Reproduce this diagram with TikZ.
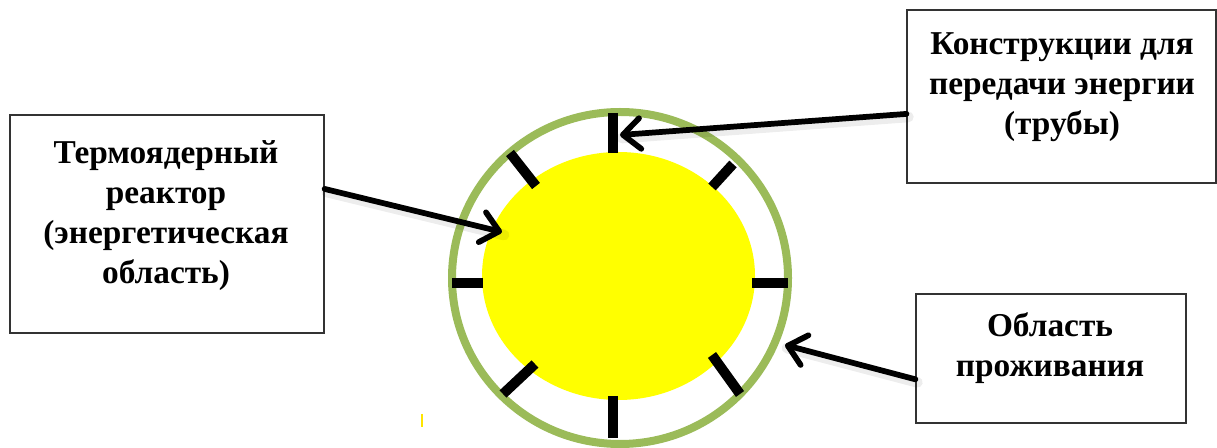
\documentclass[tikz,border=0pt]{standalone}
\usepackage{fontspec}
\setmainfont{Liberation Serif}
\usetikzlibrary{arrows.meta,calc}
\definecolor{ringgreen}{HTML}{9BBB59}
\definecolor{coreyellow}{HTML}{FFFF00}
\tikzset{
  box/.style={draw=black!80, line width=0.9pt, fill=white, inner sep=0pt},
  lbl/.style={font=\bfseries\fontsize{25}{30}\selectfont, align=center, inner sep=0pt},
  tick/.style={line width=7.5pt, black},
  arr/.style={line width=4.3pt, line cap=round, -{Straight Barb[length=13pt,width=23pt,line cap=round,line join=round]}},
  arrshadow/.style={line width=8pt, black, opacity=0.07, line cap=round},
}
\begin{document}
\begin{tikzpicture}[x=0.75pt,y=-0.75pt]
\useasboundingbox (0,0) rectangle (1217,448);
% living ring and reactor core
\draw[ringgreen, line width=6pt] (620,278) ellipse [x radius=168, y radius=166];
\fill[coreyellow] (618.5,276) ellipse [x radius=136.5, y radius=124];
\node[inner sep=0pt, minimum width=204.75pt, minimum height=186pt] (core) at (618.5,276) {};
% energy transfer structures (pipes)
\draw[tick] (613,113) -- (613,153);
\draw[tick] (613,396) -- (613,438);
\draw[tick] (452,283) -- (483,283);
\draw[tick] (752,283) -- (788,283);
\draw[tick] (510,153) -- (536,186);
\draw[tick] (733,164) -- (712,187);
\draw[tick] (535,364) -- (503,394);
\draw[tick] (712,355) -- (740,394);
% small stray mark
\draw[coreyellow!80!orange, line width=1.5pt] (422,414) -- (422,427);
% boxes
\node[box, minimum width=235.5pt, minimum height=163.5pt] (reactor) at (167,224) {};
\node[lbl] (reactortxt) at (166,216) {Термоядерный\\реактор\\(энергетическая\\область)};
\node[box, minimum width=231.75pt, minimum height=129.75pt] (pipes) at (1061.5,96.5) {};
\node[lbl] (pipestxt) at (1062,87) {Конструкции для\\передачи энергии\\(трубы)};
\node[box, minimum width=202.5pt, minimum height=96.75pt] (living) at (1051,358.5) {};
\node[lbl] (livingtxt) at (1050,348) {Область\\проживания};
% arrow end points
\coordinate (tipA) at (502,232);
\coordinate (tipB) at (620,135);
\coordinate (tipC) at (785,345);
\coordinate (startA) at ($(reactor.north east)!0.34!(reactor.south east)$);
\coordinate (startB) at ($(pipes.north west)!0.6!(pipes.south west)$);
\coordinate (startC) at ($(living.north west)!0.66!(living.south west)$);
% shadows
\draw[arrshadow] ([shift={(2,3)}]startA) -- ([shift={(2,3)}]tipA);
\draw[arrshadow] ([shift={(2,3)}]startB) -- ([shift={(2,3)}]tipB);
\draw[arrshadow] ([shift={(2,3)}]startC) -- ([shift={(2,3)}]tipC);
% arrows
\draw[arr] (startA) -- (tipA);
\draw[arr] (startB) -- (tipB);
\draw[arr] (startC) -- (tipC);
\end{tikzpicture}
\end{document}
